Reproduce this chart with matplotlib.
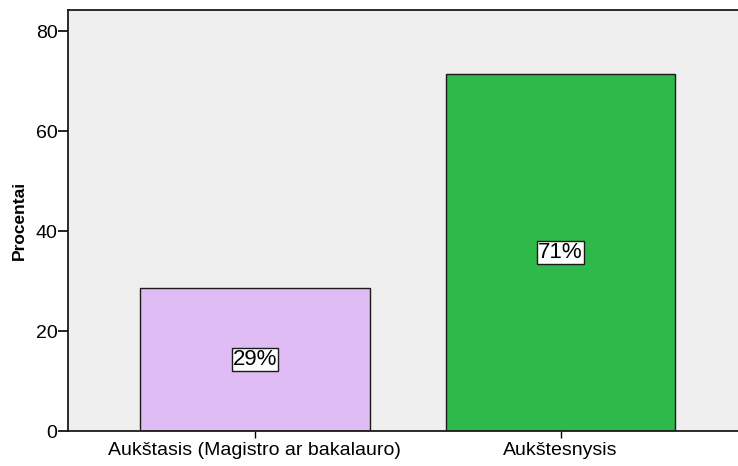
import numpy as np
import matplotlib

matplotlib.use("Agg")
import matplotlib.pyplot as plt

plt.rcParams["font.family"] = ["Liberation Sans", "DejaVu Sans"]

categories = ["Aukštasis (Magistro ar bakalauro)", "Aukštesnysis"]
percent = [28.6, 71.4]
bar_labels = ["29%", "71%"]
colors = ["#DFBCF3", "#2FB94A"]
y_ticks = [0, 20, 40, 60, 80]


def main():
    fig = plt.figure(figsize=(7.38, 4.66), dpi=100)
    ax = fig.add_axes([68 / 738, 1 - 431 / 466, 1 - 68 / 738, 421 / 466])
    ax.set_facecolor("#EFEFEF")

    x = np.arange(len(categories))
    ax.bar(x, percent, width=0.75, color=colors, edgecolor="#1a1a1a", linewidth=1.0)

    for xi, v, lab in zip(x, percent, bar_labels):
        ax.text(xi, v / 2, lab, ha="center", va="center", fontsize=16,
                bbox=dict(boxstyle="square,pad=0.05", facecolor="white",
                          edgecolor="#1a1a1a", linewidth=1.0))

    ax.set_xlim(-0.611, 1.58)
    ax.set_ylim(0, 84.2)
    ax.set_xticks(x)
    ax.set_xticklabels(categories, fontsize=14)
    ax.set_yticks(y_ticks)
    ax.tick_params(axis="y", labelsize=14, length=7.5, width=1.2, pad=0)
    ax.tick_params(axis="x", length=5, width=1.0, pad=3)
    ax.set_ylabel("Procentai", fontsize=12.5, fontweight="bold", labelpad=6)

    for side in ["left", "bottom", "top"]:
        ax.spines[side].set_linewidth(1.3)
        ax.spines[side].set_color("#1a1a1a")
    ax.spines["right"].set_visible(False)

    fig.savefig("out.png", dpi=100)


if __name__ == "__main__":
    main()
